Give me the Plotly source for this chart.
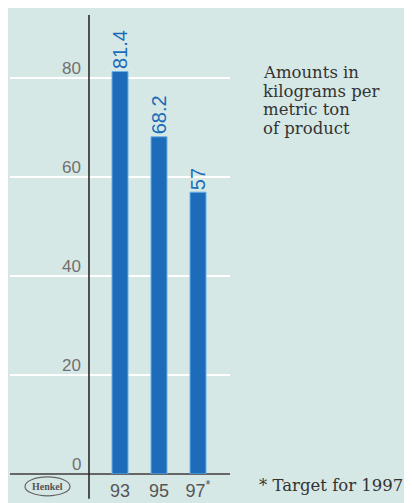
import plotly.graph_objects as go

years = ["93", "95", "97"]
tick_labels = ["93", "95", "97<sup>*</sup>"]
values = [81.4, 68.2, 57]
y_ticks = [0, 20, 40, 60, 80]
note_lines = ["Amounts in", "kilograms per", "metric ton", "of product"]
footnote = "* Target for 1997"

OFF = 8  # page body margin
W, H = 412 - OFF, 503 - OFF
ML, MR, MT, MB = 10 - OFF, W - (230 - OFF), 15 - OFF, H - (478 - OFF)
PW, PH = W - ML - MR, H - MT - MB

def px_x(p):
    return (p - OFF - ML) / PW

def px_y(p):
    return (H - MB - (p - OFF)) / PH

xpos = [0, 1, 2]
YAX = -0.795
blue = "#1c6cb9"
bg = "#d6e8e5"
sans = "Liberation Sans, Arial, sans-serif"
serif = "DejaVu Serif, serif"

fig = go.Figure()
fig.add_trace(go.Bar(
    x=xpos, y=values, width=0.41,
    marker=dict(color=blue, line=dict(color="#6aaee8", width=1)),
))

shapes = [
    dict(type="line", xref="x", yref="paper", x0=YAX, x1=YAX, y0=px_y(503), y1=1,
         line=dict(color="#2b2b2b", width=1.6)),
    dict(type="circle", xref="paper", yref="paper", x0=px_x(25), x1=px_x(70),
         y0=px_y(500), y1=px_y(481), line=dict(color="#666", width=1.2)),
]

ann = []
for xp, v in zip(xpos, values):
    ann.append(dict(x=xp, y=v, xref="x", yref="y", text=f"{v:g}", showarrow=False,
                    textangle=-90, xanchor="center", yanchor="bottom", yshift=0,
                    font=dict(family=sans, size=20, color=blue)))
for v in y_ticks:
    ann.append(dict(x=YAX, y=v, xref="x", yref="y", text=str(v), showarrow=False,
                    xanchor="right", yanchor="bottom", xshift=-6, yshift=-2,
                    font=dict(family=sans, size=17, color="#707070")))
for i, line in enumerate(note_lines):
    ann.append(dict(x=px_x(261), y=px_y(73 + 18.7 * i), xref="paper", yref="paper", text=line,
                    showarrow=False, xanchor="left", yanchor="middle",
                    font=dict(family=serif, size=16.5, color="#333")))
ann.append(dict(x=px_x(257), y=px_y(490), xref="paper", yref="paper", text=footnote,
                showarrow=False, xanchor="left", yanchor="middle",
                font=dict(family=serif, size=16.5, color="#333")))
ann.append(dict(x=px_x(47.5), y=px_y(490.5), xref="paper", yref="paper", text="<b>Henkel</b>",
                showarrow=False, xanchor="center", yanchor="middle",
                font=dict(family="Liberation Serif, serif", size=10, color="#555")))

fig.update_layout(
    width=W, height=H, margin=dict(l=ML, r=MR, t=MT, b=MB),
    paper_bgcolor=bg, plot_bgcolor=bg, showlegend=False,
    shapes=shapes, annotations=ann,
    xaxis=dict(range=[-2.82, 2.82], tickmode="array", tickvals=xpos, ticktext=tick_labels,
               showgrid=False, zeroline=False, showline=False, ticks="",
               ticklabelstandoff=4,
               tickfont=dict(family=sans, size=18, color="#555")),
    yaxis=dict(range=[0, PH / 4.9875], tickvals=y_ticks, showticklabels=False,
               showgrid=True, gridcolor="#ffffff", gridwidth=2,
               zeroline=True, zerolinecolor="#666", zerolinewidth=1.6, showline=False),
)

fig.write_html("out.html")
